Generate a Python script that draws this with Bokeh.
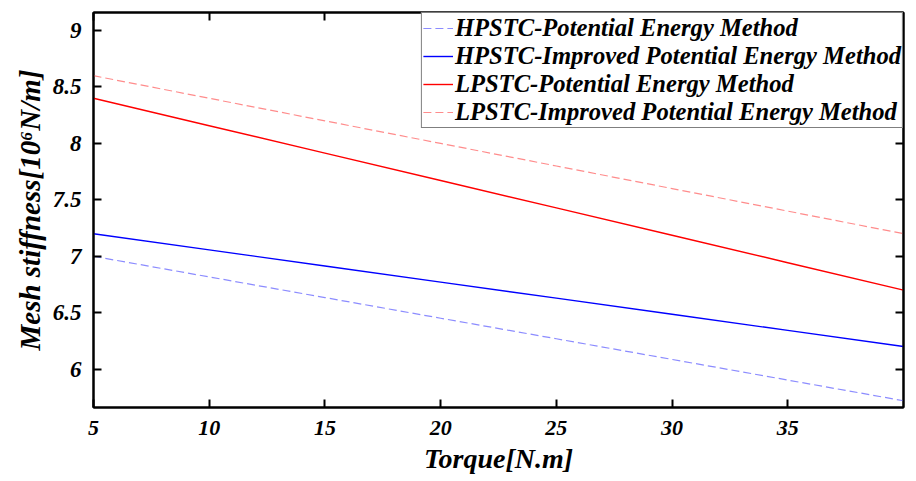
from bokeh.plotting import figure
from bokeh.models import Range1d, LinearAxis, Legend, LegendItem, FixedTicker
from bokeh.embed import file_html
from bokeh.resources import INLINE

torque = [5, 10, 15, 20, 25, 30, 35, 40]
hpstc_pe = [7.0, 6.817, 6.634, 6.451, 6.269, 6.086, 5.903, 5.72]
hpstc_ipe = [7.2, 7.057, 6.914, 6.771, 6.629, 6.486, 6.343, 6.2]
lpstc_pe = [8.4, 8.157, 7.914, 7.671, 7.429, 7.186, 6.943, 6.7]
lpstc_ipe = [8.6, 8.4, 8.2, 8.0, 7.8, 7.6, 7.4, 7.2]

x_ticks = [5, 10, 15, 20, 25, 30, 35]
y_ticks = [6, 6.5, 7, 7.5, 8, 8.5, 9]
names = ["HPSTC-Potential Energy Method", "HPSTC-Improved Potential Energy Method",
         "LPSTC-Potential Energy Method", "LPSTC-Improved Potential Energy Method"]

FONT = "Liberation Serif"

p = figure(width=916, height=481, output_backend="svg", toolbar_location=None,
           x_range=Range1d(5, 40), y_range=Range1d(5.66, 9.16),
           min_border_left=93, min_border_right=13, min_border_top=12, min_border_bottom=74)
p.background_fill_color = "white"
p.border_fill_color = "white"
p.grid.visible = False
p.outline_line_color = "black"
p.outline_line_width = 2

r1 = p.line(torque, hpstc_pe, line_color="#8c8cff", line_width=1.2, line_dash="8 4")
r2 = p.line(torque, hpstc_ipe, line_color="#0000ff", line_width=1.4)
r3 = p.line(torque, lpstc_pe, line_color="#ff0000", line_width=1.4)
r4 = p.line(torque, lpstc_ipe, line_color="#ff8c8c", line_width=1.2, line_dash="8 4")

def style_axis(ax, ticks, tick_size, show_labels=True):
    ax.ticker = FixedTicker(ticks=ticks)
    ax.axis_line_width = 2
    ax.axis_line_color = "black"
    ax.major_tick_in = 8
    ax.major_tick_out = 0
    ax.major_tick_line_width = 2
    ax.minor_tick_line_color = None
    ax.major_label_text_font = FONT
    ax.major_label_text_font_style = "bold italic"
    ax.major_label_text_font_size = tick_size
    ax.major_label_text_color = "black"
    ax.axis_label_text_font = FONT
    ax.axis_label_text_font_style = "bold italic"
    ax.axis_label_text_color = "black"
    if not show_labels:
        ax.major_label_text_font_size = "0px"
        ax.major_label_text_alpha = 0

p.add_layout(LinearAxis(), "above")
p.add_layout(LinearAxis(), "right")
for ax in p.below:
    style_axis(ax, x_ticks, "22px")
    ax.axis_label = "Torque[N.m]"
    ax.axis_label_text_font_size = "28px"
    ax.major_label_standoff = 13
    ax.axis_label_standoff = 5
for ax in p.left:
    style_axis(ax, y_ticks, "23px")
    ax.axis_label = "Mesh stiffness[10\u2076N/m]"
    ax.axis_label_text_font_size = "29px"
    ax.major_label_standoff = 12
    ax.axis_label_standoff = 4
for ax in p.above:
    style_axis(ax, x_ticks, "22px", show_labels=False)
for ax in p.right:
    style_axis(ax, y_ticks, "23px", show_labels=False)

legend = Legend(items=[LegendItem(label=n, renderers=[r]) for n, r in zip(names, [r1, r2, r3, r4])],
                location="top_right")
legend.label_text_font = FONT
legend.label_text_font_style = "bold italic"
legend.label_text_font_size = "24.6px"
legend.label_text_color = "black"
legend.border_line_color = "black"
legend.border_line_width = 1.5
legend.background_fill_alpha = 1
legend.glyph_width = 30
legend.glyph_height = 26
legend.label_height = 26
legend.label_standoff = 2
legend.spacing = 0
legend.padding = 1
legend.margin = 0
p.add_layout(legend)

open("out.html", "w").write(file_html(p, INLINE))
